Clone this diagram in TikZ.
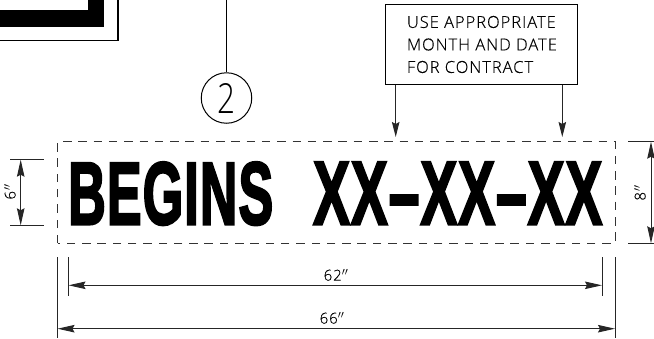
\documentclass[tikz,border=0pt]{standalone}
\usepackage{fontspec}
\usepackage{graphicx}
\usetikzlibrary{arrows.meta}
\setmainfont{Open Sans Light}
\newfontfamily\signfont[FakeBold=3,LetterSpace=2]{Liberation Sans Bold}
\newfontfamily\labelfont[LetterSpace=6,FakeBold=0.3]{Open Sans Light}
\newfontfamily\circfont{Open Sans Light}
\tikzset{
  thinline/.style={line width=1pt,black},
  extline/.style={line width=1pt,black!85},
  dimline/.style={line width=1pt,black!85,{Stealth[length=17pt,width=7.5pt,inset=2pt]}-{Stealth[length=17pt,width=7.5pt,inset=2pt]}},
  leader/.style={line width=1pt,black!85,-{Stealth[length=15pt,width=7.5pt,inset=2pt]}},
  outlinebox/.style={draw,line width=1pt,black},
  dimtext/.style={inner sep=0pt,font=\labelfont\fontsize{15}{15}\selectfont},
  signtext/.style={inner sep=0pt,anchor=north west},
  notetext/.style={inner sep=0pt,anchor=west,font=\labelfont\fontsize{16.5}{16.5}\selectfont}
}
\begin{document}
\begin{tikzpicture}[x=1pt,y=-1pt]
\useasboundingbox (0,0) rectangle (654,338);
% partial frame upper left
\fill[black] (0,0) -- (104,0) -- (104,26.7) -- (0,26.7) -- cycle;
\fill[white] (0,0) -- (88,0) -- (88,10.3) -- (0,10.3) -- cycle;
\draw[line width=1.2pt] (118,0) -- (118,40.5) -- (0,40.5);
% sign outline
\draw[line width=1pt,black!80,dash pattern=on 8.5pt off 6.8pt] (57.5,243.3) -- (57.5,141.7) -- (615,141.7) -- (615,243.3) -- cycle;
% callout 2
\coordinate (ctop) at (226.5,0);
\node[draw,circle,line width=1pt,minimum size=50.5pt,inner sep=0pt] (c2) at (226.5,98) {\resizebox{18pt}{30pt}{\circfont 2}};
\draw[thinline] (ctop) -- (c2.north);
% note box
\node[outlinebox,minimum width=192pt,minimum height=80.7pt,inner sep=0pt] (note) at (481.3,44.35) {};
\node[notetext] (n1) at (406.7,22) {USE APPROPRIATE};
\node[notetext] (n2) at (406.7,44.5) {MONTH AND DATE};
\node[notetext] (n3) at (406.7,67) {FOR CONTRACT};
\coordinate (la) at (395.7,84.7);
\coordinate (lb) at (562.3,84.7);
\coordinate (ta) at (395.7,137);
\coordinate (tb) at (562.3,137);
\draw[leader] (la) -- (ta);
\draw[leader] (lb) -- (tb);
% sign text
\node[signtext] (begins) at (68,162) {\resizebox{205pt}{62pt}{\signfont BEGINS}};
\node[signtext] (xx) at (313,162) {\resizebox{289pt}{62pt}{\signfont XX–XX–XX}};
% 6 inch
\coordinate (a1) at (10,159.7); \coordinate (a2) at (44,159.7);
\coordinate (a3) at (10,225.3); \coordinate (a4) at (44,225.3);
\coordinate (a5) at (20.7,159.7); \coordinate (a6) at (20.7,225.3);
\draw[extline] (a1) -- (a2);
\draw[extline] (a3) -- (a4);
\draw[dimline] (a5) -- (a6);
\node[dimtext,rotate=90] (six) at (10,192) {6$''$};
% 8 inch
\coordinate (b1) at (628,141.7); \coordinate (b2) at (654,141.7);
\coordinate (b3) at (628,243.3); \coordinate (b4) at (654,243.3);
\coordinate (b5) at (651,141.7); \coordinate (b6) at (651,243.3);
\draw[extline] (b1) -- (b2);
\draw[extline] (b3) -- (b4);
\draw[dimline] (b5) -- (b6);
\node[dimtext,rotate=90] (eight) at (640,193) {8$''$};
% 62 inch
\coordinate (c1) at (68.5,257); \coordinate (c3) at (68.5,296);
\coordinate (d1) at (602,257); \coordinate (d3) at (602,296);
\coordinate (c4) at (68.5,285.3); \coordinate (d4) at (602,285.3);
\draw[extline] (c1) -- (c3);
\draw[extline] (d1) -- (d3);
\draw[dimline] (c4) -- (d4);
\node[dimtext] (sixtytwo) at (336,275) {62$''$};
% 66 inch
\coordinate (e1) at (57.5,257); \coordinate (e3) at (57.5,338);
\coordinate (f1) at (615,257); \coordinate (f3) at (615,338);
\coordinate (e4) at (57.5,328.7); \coordinate (f4) at (615,328.7);
\draw[extline] (e1) -- (e3);
\draw[extline] (f1) -- (f3);
\draw[dimline] (e4) -- (f4);
\node[dimtext] (sixtysix) at (332,318) {66$''$};
\end{tikzpicture}
\end{document}
